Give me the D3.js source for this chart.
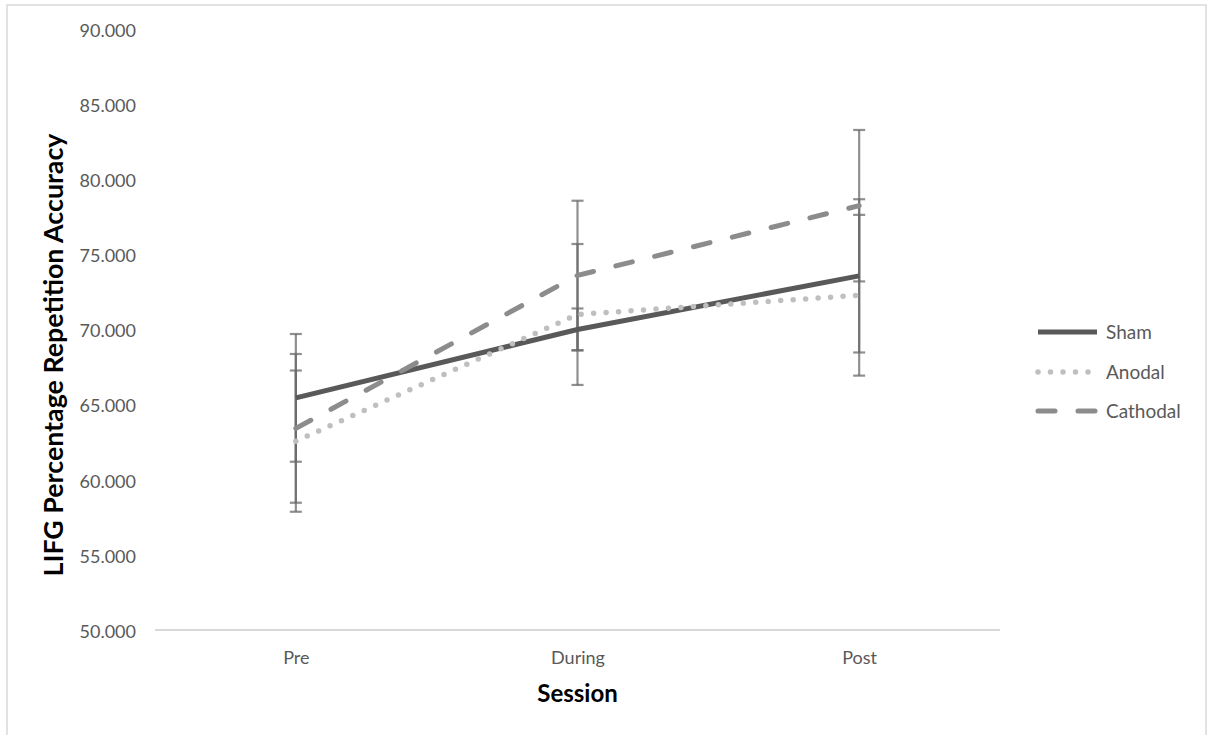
<!DOCTYPE html>
<html>
<head>
<meta charset="utf-8">
<script src="https://cdn.jsdelivr.net/npm/d3@7"></script>
<style>
  html, body { margin: 0; padding: 0; background: #fff; }
  svg { display: block; }
  text { font-family: Lato, "Open Sans", sans-serif; }
</style>
</head>
<body>
<svg id="chart" width="1207" height="735"></svg>
<script>
// ---- data ----
const sessions = ["Pre", "During", "Post"];
const seriesNames = ["Sham", "Anodal", "Cathodal"];
const shamValues = [65.45, 70.0, 73.57];
const anodalValues = [62.57, 71.0, 72.28];
const cathodalValues = [63.42, 73.6, 78.24];
const shamErrors = [4.25, 1.4, 5.1];
const anodalErrors = [4.7, 4.69, 5.35];
const cathodalErrors = [4.95, 4.97, 5.04];
const yTicks = [50, 55, 60, 65, 70, 75, 80, 85, 90];
const yTitle = "LIFG Percentage Repetition Accuracy";
const xTitle = "Session";

// ---- layout ----
const svg = d3.select("#chart");
const W = 1207, H = 735;
const plot = { left: 155, right: 1000, top: 29, bottom: 630 };

svg.append("rect").attr("x", 7).attr("y", 5).attr("width", W - 8).attr("height", H + 10)
  .attr("fill", "#fff").attr("stroke", "#d9d9d9").attr("stroke-width", 1.5);

const x = d3.scalePoint().domain(sessions).range([plot.left, plot.right]).padding(0.5);
const y = d3.scaleLinear().domain([50, 90]).range([plot.bottom, plot.top]);

// y axis labels
const yAxis = d3.axisLeft(y).tickValues(yTicks).tickFormat(d3.format(".3f")).tickSize(0).tickPadding(0);
const gy = svg.append("g").attr("transform", `translate(136,1.5)`).call(yAxis);
gy.select(".domain").remove();
gy.selectAll("text").attr("fill", "#595959").style("font-size", "18px").style("font-family", "Lato, sans-serif");

// x axis
const xAxis = d3.axisBottom(x).tickSize(0).tickPadding(0);
const gx = svg.append("g").attr("transform", `translate(0,${plot.bottom})`).call(xAxis);
gx.select(".domain").remove();
gx.selectAll("text").attr("fill", "#595959").attr("dy", 0).attr("y", 34)
  .style("font-size", "18px").style("font-family", "Lato, sans-serif");
svg.append("line").attr("x1", plot.left).attr("x2", plot.right)
  .attr("y1", plot.bottom).attr("y2", plot.bottom)
  .attr("stroke", "#d9d9d9").attr("stroke-width", 2);

// titles
svg.append("text").attr("x", (plot.left + plot.right) / 2).attr("y", 702)
  .attr("text-anchor", "middle").attr("font-weight", "bold").attr("fill", "#000")
  .style("font-size", "24px").text(xTitle);
svg.append("text").attr("transform", `translate(63,355) rotate(-90)`)
  .attr("text-anchor", "middle").attr("font-weight", "bold").attr("fill", "#000")
  .style("font-size", "26.8px").text(yTitle);

// series
const styles = {
  Sham: { color: "#595959", width: 5, dash: null, cap: "butt" },
  Anodal: { color: "#bfbfbf", width: 5.5, dash: "0 12.5", cap: "round" },
  Cathodal: { color: "#8c8c8c", width: 5, dash: "17 23", cap: "round" }
};
const series = [
  { name: "Sham", values: shamValues, errors: shamErrors },
  { name: "Anodal", values: anodalValues, errors: anodalErrors },
  { name: "Cathodal", values: cathodalValues, errors: cathodalErrors }
];

const line = d3.line().x((d, i) => x(sessions[i])).y(d => y(d));

// error bars
const errG = svg.append("g");
series.forEach(s => {
  s.values.forEach((v, i) => {
    const cx = x(sessions[i]);
    const g = errG.append("g").attr("stroke", "#6a6a6a").attr("stroke-width", 2.2).attr("stroke-opacity", 0.75);
    g.append("line").attr("x1", cx).attr("x2", cx).attr("y1", y(v - s.errors[i])).attr("y2", y(v + s.errors[i]));
    [v - s.errors[i], v + s.errors[i]].forEach(e => {
      g.append("line").attr("x1", cx - 6).attr("x2", cx + 6).attr("y1", y(e)).attr("y2", y(e));
    });
  });
});

series.forEach(s => {
  const st = styles[s.name];
  svg.append("path").datum(s.values).attr("d", line)
    .attr("fill", "none").attr("stroke", st.color).attr("stroke-width", st.width)
    .attr("stroke-linecap", st.cap).attr("stroke-linejoin", "round")
    .attr("stroke-dasharray", st.dash);
});

// legend
const legY = [332, 372, 411];
seriesNames.forEach((n, i) => {
  const st = styles[n];
  svg.append("line").attr("x1", 1038).attr("x2", 1097).attr("y1", legY[i]).attr("y2", legY[i])
    .attr("stroke", st.color).attr("stroke-width", st.width).attr("stroke-linecap", st.cap)
    .attr("stroke-dasharray", st.dash);
  svg.append("text").attr("x", 1106).attr("y", legY[i]).attr("dy", "0.35em")
    .attr("fill", "#595959").style("font-size", "19px").text(n);
});
</script>
</body>
</html>
